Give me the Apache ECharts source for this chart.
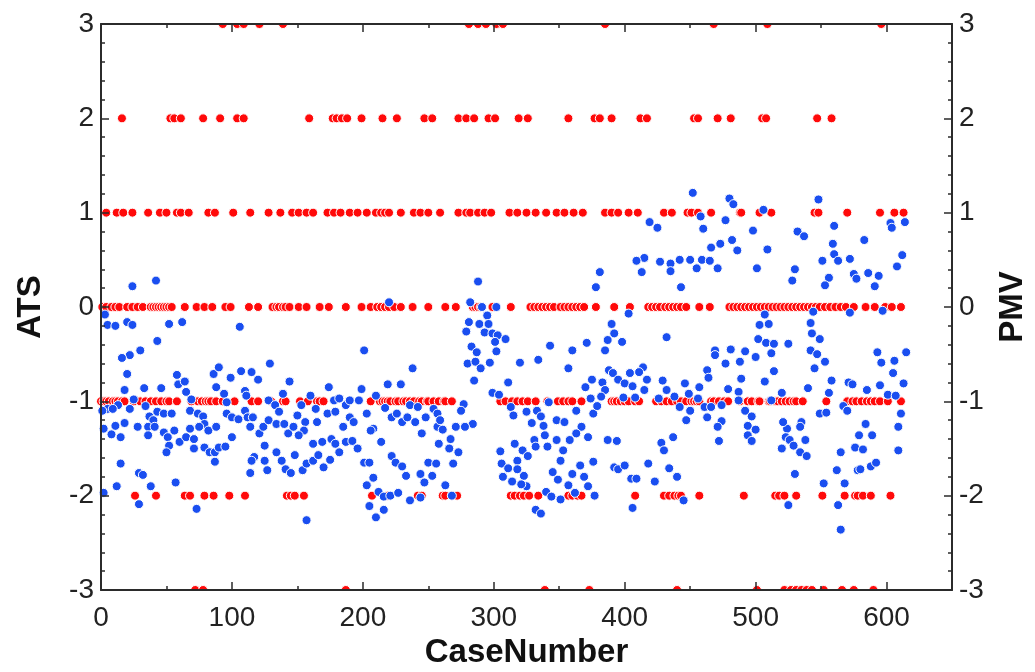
<!DOCTYPE html>
<html>
<head>
<meta charset="utf-8">
<script src="https://cdn.jsdelivr.net/npm/echarts@6/dist/echarts.min.js"></script>
<style>html,body{margin:0;padding:0;background:#fff}#chart{width:1035px;height:672px}</style>
</head>
<body>
<div id="chart"></div>
<script>
// ---- Data ----
const xTicks = [0, 100, 200, 300, 400, 500, 600];
const yTicks = [-3, -2, -1, 0, 1, 2, 3];

// ATS (red) – case numbers at each integer level
const atsLevel3 = [93, 104, 109, 121, 139, 281, 288, 294, 302, 307, 385, 468, 509, 596];
const atsLevel2 = [16, 53, 56, 61, 78, 91, 104, 109, 159, 177, 180, 184, 188, 199, 215, 226, 247, 253, 273, 279, 285, 296, 301, 319, 326, 357, 377, 381, 390, 412, 417, 453, 456, 471, 481, 505, 508, 547, 558];
const atsLevel1 = [4, 12, 17, 24, 36, 45, 50, 58, 61, 67, 82, 87, 101, 114, 128, 137, 146, 151, 157, 162, 173, 178, 183, 190, 196, 203, 210, 214, 217, 220, 229, 239, 244, 250, 259, 273, 279, 282, 288, 293, 298, 312, 318, 325, 332, 340, 348, 354, 361, 368, 385, 390, 395, 403, 410, 430, 436, 448, 451, 456, 466, 488, 489, 503, 512, 545, 548, 570, 595, 606, 613];
const atsLevel0 = [1, 4, 8, 11, 14, 20, 24, 28, 32, 38, 40, 42, 44, 46, 48, 50, 52, 54, 64, 73, 79, 85, 95, 99, 113, 120, 131, 134, 136, 139, 141, 144, 151, 157, 167, 174, 187, 199, 206, 211, 214, 217, 220, 224, 229, 238, 250, 263, 271, 284, 286, 288, 290, 299, 313, 328, 331, 334, 337, 340, 343, 346, 351, 354, 357, 360, 363, 366, 369, 378, 392, 404, 418, 421, 424, 427, 431, 434, 437, 440, 443, 447, 457, 465, 480, 483, 486, 489, 492, 495, 498, 501, 504, 507, 510, 513, 516, 519, 522, 525, 528, 531, 534, 537, 540, 543, 546, 549, 553, 557, 561, 565, 569, 575, 584, 591, 599, 604, 611];
const atsLevelM1 = [0, 2, 4, 6, 9, 11, 13, 16, 18, 25, 30, 34, 38, 42, 46, 50, 52, 58, 69, 74, 77, 80, 82, 84, 88, 93, 102, 115, 120, 130, 139, 141, 152, 158, 165, 167, 170, 206, 213, 215, 217, 219, 221, 225, 227, 231, 233, 236, 239, 243, 245, 249, 250, 254, 258, 262, 263, 268, 305, 309, 314, 318, 322, 326, 332, 341, 349, 353, 357, 360, 367, 390, 392, 394, 397, 400, 403, 408, 411, 424, 428, 432, 436, 440, 443, 447, 451, 453, 455, 457, 466, 468, 472, 476, 479, 488, 494, 497, 502, 503, 510, 511, 515, 517, 520, 523, 526, 529, 531, 536, 554, 570, 574, 577, 581, 585, 588, 591, 595, 601, 611];
const atsLevelM2 = [26, 42, 64, 68, 79, 86, 98, 110, 142, 145, 148, 155, 207, 219, 242, 245, 261, 263, 268, 272, 313, 316, 320, 323, 327, 334, 357, 360, 364, 367, 377, 408, 430, 434, 438, 441, 443, 457, 491, 515, 518, 522, 531, 551, 568, 576, 578, 582, 588, 603];
const atsLevelM3 = [72, 78, 187, 339, 373, 440, 501, 522, 527, 531, 535, 539, 543, 552, 566, 575, 590];

// PMV (blue) – [case number, value]
const pmvPart1 = [[24,0.22],[42,0.28],[3,-0.08],[5,-0.19],[11,-0.2],[20,-0.16],[24,-0.19],[52,-0.18],[62,-0.16],[106,-0.21],[43,-0.36],[30,-0.46],[22,-0.51],[16,-0.54],[20,-0.71],[18,-0.88],[33,-0.86],[46,-0.86],[58,-0.72],[59,-0.82],[64,-0.79],[65,-0.9],[69,-0.98],[25,-0.98],[22,-1.08],[13,-1.04],[5,-1.08],[9,-1.08],[1,-1.1],[34,-1.05],[37,-1.16],[40,-1.2],[36,-1.27],[28,-1.27],[18,-1.23],[11,-1.26],[2,-1.29],[8,-1.35],[15,-1.38],[36,-1.36],[41,-1.27],[43,-1.11],[48,-1.13],[54,-1.13],[48,-1.33],[51,-1.38],[52,-1.47],[50,-1.54],[56,-1.31],[60,-1.43],[65,-1.38],[68,-1.1],[68,-1.29],[71,-1.4],[71,-1.5],[74,-1.13],[78,-1.16],[79,-1.24],[75,-1.27],[82,-1.31],[79,-1.49],[83,-1.54],[87,-1.54],[87,-1.64],[90,-1.49],[95,-1.48],[88,-1.27],[86,-0.71],[90,-0.64],[88,-0.85],[94,-0.92],[99,-0.75],[107,-0.68],[115,-0.69],[120,-0.77],[110,-0.89],[111,-0.94],[96,-1.01],[96,-1.13],[100,-1.17],[105,-1.19],[100,-1.38],[110,-1.1],[112,-1.17],[116,-1.17],[114,-1.27],[121,-1.34],[124,-1.27],[128,-1.2],[129,-0.6],[128,-0.99],[125,-1.47],[117,-1.59],[115,-1.63],[125,-1.63],[127,-1.73],[114,-1.76],[15,-1.66],[29,-1.76],[32,-1.78],[12,-1.9],[2,-1.97],[38,-1.9],[57,-1.86],[29,-2.09],[73,-2.14]];
const pmvPart2 = [[220,0.05],[201,-0.46],[238,-0.65],[144,-0.79],[139,-0.92],[160,-0.94],[174,-0.85],[199,-0.87],[219,-0.82],[229,-0.82],[210,-0.94],[133,-1.04],[136,-1.11],[134,-1.24],[140,-1.24],[143,-1.34],[147,-1.27],[150,-1.15],[153,-1.04],[156,-1.22],[155,-1.31],[151,-1.36],[164,-1.08],[165,-1.22],[173,-1.13],[178,-0.99],[182,-0.97],[187,-1.04],[190,-0.99],[197,-0.99],[203,-1.13],[190,-1.17],[193,-1.22],[185,-1.27],[179,-1.11],[134,-1.54],[138,-1.63],[141,-1.72],[145,-1.76],[148,-1.57],[154,-1.73],[157,-1.66],[162,-1.63],[166,-1.57],[170,-1.7],[175,-1.62],[182,-1.54],[162,-1.45],[169,-1.43],[176,-1.4],[179,-1.45],[187,-1.43],[192,-1.42],[196,-1.5],[157,-2.26],[208,-1.29],[206,-1.31],[214,-1.43],[217,-1.07],[222,-1.17],[226,-1.13],[230,-1.22],[234,-1.17],[236,-1.04],[242,-1.06],[240,-1.22],[245,-1.34],[248,-1.17],[254,-1.08],[257,-1.13],[257,-1.27],[259,-1.2],[258,-1.45],[201,-1.65],[205,-1.65],[222,-1.58],[225,-1.65],[230,-1.69],[233,-1.79],[244,-1.77],[247,-1.86],[253,-1.79],[250,-1.65],[256,-1.66],[208,-1.81],[203,-1.89],[212,-1.96],[216,-2.01],[221,-2],[227,-1.97],[236,-2.05],[244,-2.02],[205,-2.11],[216,-2.15],[210,-2.23]];
const pmvPart3 = [[381,0.37],[378,0.21],[288,0.27],[282,0.05],[291,0],[302,0],[295,-0.09],[281,-0.16],[289,-0.18],[296,-0.18],[279,-0.26],[293,-0.27],[299,-0.28],[303,-0.3],[309,-0.34],[301,-0.37],[283,-0.42],[287,-0.48],[302,-0.47],[280,-0.6],[286,-0.58],[290,-0.65],[297,-0.59],[285,-0.78],[320,-0.59],[334,-0.56],[343,-0.41],[360,-0.46],[371,-0.38],[357,-0.65],[311,-0.8],[299,-0.91],[304,-0.93],[342,-1.01],[277,-1.03],[275,-1.1],[284,-1.24],[278,-1.27],[271,-1.27],[261,-1.3],[267,-1.4],[266,-1.5],[273,-1.54],[269,-1.66],[263,-1.89],[268,-2],[313,-1.06],[315,-1.15],[325,-1.11],[333,-1.1],[336,-1.16],[329,-1.23],[338,-1.26],[348,-1.2],[354,-1.22],[363,-1.1],[367,-1.27],[372,-1.38],[376,-1.13],[379,-1.05],[374,-0.97],[370,-0.85],[375,-0.77],[383,-0.8],[385,-0.88],[382,-0.95],[388,-0.67],[385,-0.46],[387,-0.35],[390,-0.18],[392,-0.28],[305,-1.53],[316,-1.45],[322,-1.52],[326,-1.58],[318,-1.63],[306,-1.66],[311,-1.71],[307,-1.8],[314,-1.85],[318,-1.72],[323,-1.79],[325,-1.9],[321,-1.88],[331,-1.41],[332,-1.48],[341,-1.48],[339,-1.36],[348,-1.41],[351,-1.63],[353,-1.52],[358,-1.41],[363,-1.34],[366,-1.68],[369,-1.8],[376,-1.64],[387,-1.41],[392,-1.7],[345,-1.75],[349,-1.83],[357,-1.89],[360,-1.77],[362,-1.97],[372,-1.9],[377,-2],[340,-1.96],[344,-2.01],[351,-2.04],[332,-2.15],[336,-2.19]];
const pmvPart4 = [[452,1.21],[480,1.15],[483,1.09],[506,1.03],[458,0.96],[477,0.92],[419,0.9],[425,0.84],[460,0.83],[498,0.81],[482,0.71],[473,0.67],[466,0.63],[486,0.6],[509,0.61],[415,0.52],[409,0.49],[427,0.48],[435,0.46],[442,0.5],[450,0.5],[459,0.5],[465,0.49],[413,0.37],[435,0.38],[455,0.41],[471,0.41],[501,0.41],[443,0.21],[403,-0.07],[398,-0.37],[432,-0.32],[507,-0.08],[503,-0.19],[510,-0.18],[502,-0.34],[508,-0.38],[514,-0.39],[512,-0.49],[469,-0.46],[469,-0.51],[481,-0.45],[492,-0.47],[500,-0.53],[488,-0.58],[477,-0.6],[463,-0.67],[464,-0.75],[489,-0.76],[507,-0.79],[514,-0.68],[414,-0.64],[411,-0.69],[404,-0.7],[391,-0.7],[395,-0.77],[400,-0.81],[406,-0.84],[417,-0.77],[429,-0.78],[415,-0.88],[432,-0.88],[446,-0.81],[457,-0.85],[438,-0.95],[449,-0.92],[456,-0.97],[426,-0.97],[408,-0.96],[399,-0.96],[442,-1.06],[450,-1.1],[447,-1.2],[461,-1.06],[466,-1.06],[463,-1.17],[474,-1.04],[479,-0.87],[487,-0.9],[487,-0.99],[492,-1.1],[497,-1.16],[474,-1.21],[471,-1.27],[472,-1.42],[494,-1.26],[500,-1.3],[494,-1.36],[497,-1.42],[512,-0.99],[520,-1.5],[394,-1.42],[437,-1.38],[428,-1.44],[430,-1.52],[395,-1.72],[400,-1.68],[405,-1.82],[409,-1.82],[418,-1.66],[423,-1.85],[434,-1.71],[440,-1.8],[445,-2.05],[406,-2.13]];
const pmvPart5 = [[548,1.14],[560,0.86],[532,0.8],[537,0.75],[559,0.67],[583,0.71],[560,0.56],[563,0.49],[551,0.49],[572,0.51],[530,0.4],[528,0.28],[556,0.31],[553,0.23],[575,0.35],[577,0.3],[586,0.36],[594,0.33],[591,0.22],[603,0.89],[604,0.84],[614,0.9],[612,0.55],[608,0.43],[544,-0.05],[572,-0.06],[597,-0.04],[542,-0.17],[543,-0.28],[549,-0.34],[525,-0.39],[542,-0.46],[547,-0.5],[553,-0.58],[545,-0.65],[558,-0.78],[540,-0.86],[556,-0.91],[571,-0.8],[574,-0.82],[585,-0.88],[593,-0.48],[596,-0.59],[606,-0.57],[605,-0.7],[615,-0.48],[613,-0.81],[595,-0.83],[601,-0.93],[607,-0.94],[520,-0.91],[567,-1.05],[570,-1.1],[549,-1.13],[554,-1.12],[611,-1.13],[609,-1.27],[609,-1.52],[524,-1.29],[521,-1.22],[535,-1.22],[534,-1.27],[523,-1.38],[526,-1.41],[529,-1.47],[538,-1.41],[534,-1.54],[539,-1.58],[530,-1.77],[584,-1.24],[579,-1.36],[589,-1.36],[576,-1.49],[582,-1.51],[565,-1.54],[588,-1.69],[592,-1.65],[578,-1.73],[580,-1.72],[562,-1.73],[552,-1.87],[568,-1.87],[525,-2.1],[563,-2.1],[565,-2.36]];

// ---- Build ----
const atsData = [];
[[3, atsLevel3], [2, atsLevel2], [1, atsLevel1], [0, atsLevel0], [-1, atsLevelM1], [-2, atsLevelM2], [-3, atsLevelM3]]
  .forEach(([lvl, arr]) => arr.forEach(c => atsData.push([c, lvl])));
const pmvData = [].concat(pmvPart1, pmvPart2, pmvPart3, pmvPart4, pmvPart5);

const AX = '#2b2b2b';
const tickFont = { fontFamily: "'Liberation Sans Narrow', 'Liberation Sans', Arial, sans-serif", fontSize: 28, color: '#222' };
const nameFont = { fontFamily: "'Liberation Sans', Arial, sans-serif", fontSize: 33, fontWeight: 'bold', color: '#111' };
const GL = 101, GR = 83, GT = 24, GB = 82;

function xAx(pos, main, labels) {
  return {
    type: 'value', position: pos, min: 0, max: 650, interval: main ? 100 : 50, z: 10,
    axisLine: { show: main, onZero: false, lineStyle: { color: AX, width: 2 } },
    axisTick: { show: true, inside: true, length: main ? 8 : 4, lineStyle: { color: AX, width: 1.5 } },
    axisLabel: { show: labels, margin: 14, showMaxLabel: false, ...tickFont,
      formatter: v => (xTicks.indexOf(v) >= 0 ? String(v) : '') },
    splitLine: { show: false },
    name: labels ? 'CaseNumber' : '', nameLocation: 'middle', nameGap: 45, nameTextStyle: nameFont
  };
}
function yAx(pos, name, gap) {
  return {
    type: 'value', position: pos, min: -3, max: 3, interval: 1, z: 10,
    axisLine: { show: true, onZero: false, lineStyle: { color: AX, width: 2 } },
    axisTick: { show: true, inside: true, length: 8, lineStyle: { color: AX, width: 1.5 } },
    minorTick: { show: true, splitNumber: 5, length: 4, lineStyle: { color: AX, width: 1.5 } },
    axisLabel: { margin: 7, ...tickFont, formatter: v => (yTicks.indexOf(v) >= 0 ? String(v) : '') },
    splitLine: { show: false },
    name: name, nameLocation: 'middle', nameRotate: 90, nameGap: gap, nameTextStyle: nameFont
  };
}

const chart = echarts.init(document.getElementById('chart'), null, { renderer: 'canvas' });
chart.setOption({
  backgroundColor: '#fff',
  animation: false,
  grid: { left: GL, right: GR, top: GT, bottom: GB, containLabel: false, outerBoundsMode: 'none' },
  xAxis: [xAx('bottom', true, true), xAx('top', true, false), xAx('bottom', false, false), xAx('top', false, false)],
  yAxis: [yAx('left', 'ATS', 54), yAx('right', 'PMV', 44)],
  graphic: [
    { type: 'rect', z: 5, shape: { x: GL, y: 0, width: 1035 - GL - GR, height: GT }, style: { fill: '#fff' } },
    { type: 'rect', z: 5, shape: { x: GL, y: 672 - GB, width: 1035 - GL - GR, height: 30 }, style: { fill: '#fff' } }
  ],
  series: [
    { type: 'scatter', name: 'ATS', xAxisIndex: 0, yAxisIndex: 0, data: atsData, symbolSize: 9, z: 2,
      itemStyle: { color: '#ff0a0a', borderColor: '#ffffff', borderWidth: 1, opacity: 1 } },
    { type: 'scatter', name: 'PMV', xAxisIndex: 0, yAxisIndex: 1, data: pmvData, symbolSize: 9, z: 3,
      itemStyle: { color: '#1a4ef0', borderColor: '#ffffff', borderWidth: 1, opacity: 1 } }
  ]
});
</script>
</body>
</html>
